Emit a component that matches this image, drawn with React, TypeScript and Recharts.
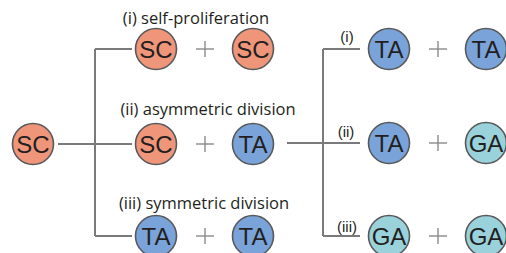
import { ScatterChart, Scatter, XAxis, YAxis, ReferenceLine } from 'recharts';

// row centres and column centres (pixel-space domain)
const rowY = [49, 143, 236];
const leftRowY = [49, 144, 236];

const cellColors: Record<string, string> = {
  SC: '#EF967A',
  TA: '#7AA4D9',
  GA: '#9AD2DC',
};

const cells = [
  { x: 33, y: 144, kind: 'SC' },
  { x: 156, y: leftRowY[0], kind: 'SC' },
  { x: 253, y: leftRowY[0], kind: 'SC' },
  { x: 156, y: leftRowY[1], kind: 'SC' },
  { x: 253, y: leftRowY[1], kind: 'TA' },
  { x: 156, y: leftRowY[2], kind: 'TA' },
  { x: 253, y: leftRowY[2], kind: 'TA' },
  { x: 389, y: rowY[0], kind: 'TA' },
  { x: 486, y: rowY[0], kind: 'TA' },
  { x: 389, y: rowY[1], kind: 'TA' },
  { x: 486, y: rowY[1], kind: 'GA' },
  { x: 389, y: rowY[2], kind: 'GA' },
  { x: 486, y: rowY[2], kind: 'GA' },
];

const plusSigns = [
  { x: 205, y: leftRowY[0] },
  { x: 205, y: leftRowY[1] },
  { x: 205, y: leftRowY[2] },
  { x: 438, y: rowY[0] },
  { x: 438, y: rowY[1] },
  { x: 438, y: rowY[2] },
];

const bigLabels = [
  { x: 196, y: 24, text: '(i) self-proliferation' },
  { x: 208, y: 115, text: '(ii) asymmetric division' },
  { x: 204, y: 209, text: '(iii) symmetric division' },
];

const smallLabels = [
  { x: 347, y: 42, text: '(i)' },
  { x: 346, y: 137, text: '(ii)' },
  { x: 347, y: 232, text: '(iii)' },
];

const branches = [
  [{ x: 58, y: 144 }, { x: 132, y: 144 }],
  [{ x: 95, y: 49 }, { x: 95, y: 236 }],
  [{ x: 95, y: 49 }, { x: 132, y: 49 }],
  [{ x: 95, y: 236 }, { x: 132, y: 236 }],
  [{ x: 287, y: 143 }, { x: 360, y: 143 }],
  [{ x: 323, y: 49 }, { x: 323, y: 236 }],
  [{ x: 323, y: 49 }, { x: 360, y: 49 }],
  [{ x: 323, y: 236 }, { x: 360, y: 236 }],
];

const CellShape = (props: any) => {
  const { cx, cy, payload } = props;
  return (
    <g>
      <circle cx={cx} cy={cy} r={20.5} fill={cellColors[payload.kind]} stroke="#58595B" strokeWidth={1.6} />
      <text
        x={cx}
        y={cy + 8.5}
        textAnchor="middle"
        fontFamily="'Liberation Sans Narrow', 'Liberation Sans', Arial, sans-serif"
        fontSize={24}
        fill="#231F20"
      >
        {payload.kind}
      </text>
    </g>
  );
};

const PlusShape = (props: any) => {
  const { cx, cy } = props;
  return (
    <g stroke="#8A8A8C" strokeWidth={1.4}>
      <line x1={cx - 9} y1={cy} x2={cx + 9} y2={cy} />
      <line x1={cx} y1={cy - 8} x2={cx} y2={cy + 8} />
    </g>
  );
};

const BigLabel = (props: any) => {
  const { cx, cy, payload } = props;
  return (
    <text x={cx} y={cy} textAnchor="middle" fontFamily="'Open Sans', sans-serif" fontSize={16.5} fill="#231F20">
      {payload.text}
    </text>
  );
};

const SmallLabel = (props: any) => {
  const { cx, cy, payload } = props;
  return (
    <text x={cx} y={cy} textAnchor="middle" fontFamily="'Liberation Sans', Arial, sans-serif" fontSize={15} fill="#231F20">
      {payload.text}
    </text>
  );
};

export default function App() {
  return (
    <div style={{ position: 'absolute', left: 0, top: 0, width: 506, height: 253, background: '#fff' }}>
      <ScatterChart width={506} height={253} margin={{ top: 0, right: 0, bottom: 0, left: 0 }}>
        <XAxis type="number" dataKey="x" domain={[0, 506]} hide />
        <YAxis type="number" dataKey="y" domain={[0, 253]} reversed hide />
        {branches.map((seg, i) => (
          <ReferenceLine key={i} segment={seg} stroke="#7A7A7C" strokeWidth={2} ifOverflow="visible" />
        ))}
        <Scatter data={plusSigns} shape={PlusShape} isAnimationActive={false} />
        <Scatter data={cells} shape={CellShape} isAnimationActive={false} />
        <Scatter data={bigLabels} shape={BigLabel} isAnimationActive={false} />
        <Scatter data={smallLabels} shape={SmallLabel} isAnimationActive={false} />
      </ScatterChart>
    </div>
  );
}
